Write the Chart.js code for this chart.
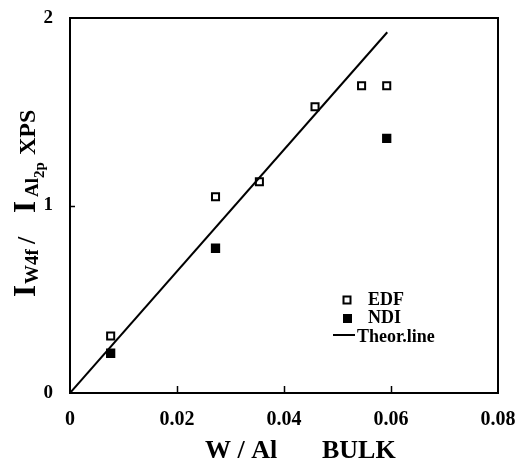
<!DOCTYPE html>
<html>
<head>
<meta charset="utf-8">
<script src="https://cdn.jsdelivr.net/npm/chart.js@4"></script>
<style>
    html, body { margin: 0; padding: 0; background: #fff; }
</style>
</head>
<body>
<canvas id="chart" width="517" height="461"></canvas>
<script>
// Values
const edfX = [0.0076, 0.0272, 0.0354, 0.0458, 0.0545, 0.0592];
const edfY = [0.304, 1.047, 1.127, 1.527, 1.639, 1.639];
const ndiX = [0.0076, 0.0272, 0.0592];
const ndiY = [0.212, 0.772, 1.358];
const theorX = [0, 0.0593];
const theorY = [0, 1.924];
const xTicks = [0, 0.02, 0.04, 0.06, 0.08];
const yTicks = [0, 1, 2];
const seriesNames = ['EDF', 'NDI', 'Theor.line'];

const toPoints = (xs, ys) => xs.map((x, i) => ({ x: x, y: ys[i] }));

const SERIF = '"Liberation Serif", "DejaVu Serif", serif';

// Frame, inward ticks, axis titles and legend drawn on top
const decorPlugin = {
    id: 'decor',
    afterDraw(chart) {
        const ctx = chart.ctx;
        const a = chart.chartArea;
        const xs = chart.scales.x;
        const ys = chart.scales.y;
        ctx.save();

        // box
        ctx.strokeStyle = '#000';
        ctx.lineWidth = 2;
        ctx.strokeRect(a.left, a.top, a.right - a.left, a.bottom - a.top);

        // inward tick marks
        ctx.lineWidth = 1.5;
        ctx.beginPath();
        xTicks.slice(1, -1).forEach(v => {
            const px = Math.round(xs.getPixelForValue(v)) + 0.5;
            ctx.moveTo(px, a.bottom);
            ctx.lineTo(px, a.bottom - 7);
        });
        yTicks.slice(1, -1).forEach(v => {
            const py = Math.round(ys.getPixelForValue(v)) + 0.5;
            ctx.moveTo(a.left, py);
            ctx.lineTo(a.left + 5, py);
        });
        ctx.stroke();

        // x title
        ctx.fillStyle = '#000';
        ctx.textBaseline = 'alphabetic';
        ctx.textAlign = 'left';
        ctx.font = 'bold 26px ' + SERIF;
        ctx.fillText('W / Al', 205, 458);
        ctx.fillText('BULK', 322, 458);

        // y title with subscripts, rotated
        ctx.save();
        ctx.translate(35, 297);
        ctx.rotate(-Math.PI / 2);
        const parts = [
            ['I', 31, 0, 0],
            ['W4f', 19, 13, 3],
            ['/', 26, 53, 0],
            ['I', 31, 84, 0],
            ['Al', 19, 100, 3],
            ['2p', 15, 119, 9],
            ['XPS', 24, 142, 0]
        ];
        parts.forEach(p => {
            ctx.font = 'bold ' + p[1] + 'px ' + SERIF;
            ctx.fillText(p[0], p[2], p[3]);
        });
        ctx.restore();

        // legend
        ctx.lineWidth = 2;
        ctx.strokeRect(343.5, 296.5, 7, 7);
        ctx.fillRect(343, 314, 9, 9);
        ctx.beginPath();
        ctx.moveTo(333, 335);
        ctx.lineTo(355, 335);
        ctx.stroke();
        ctx.font = 'bold 18px ' + SERIF;
        ctx.fillText(seriesNames[0], 368, 305);
        ctx.fillText(seriesNames[1], 368, 323);
        ctx.fillText(seriesNames[2], 357, 342);

        ctx.restore();
    }
};

const ctx = document.getElementById('chart').getContext('2d');
const chart = new Chart(ctx, {
    type: 'scatter',
    data: {
        datasets: [
            {
                label: seriesNames[2],
                data: toPoints(theorX, theorY),
                showLine: true,
                borderColor: '#000',
                borderWidth: 2,
                pointRadius: 0,
                fill: false
            },
            {
                label: seriesNames[0],
                data: toPoints(edfX, edfY),
                pointStyle: 'rect',
                pointRadius: 5,
                borderWidth: 2,
                borderColor: '#000',
                backgroundColor: '#fff'
            },
            {
                label: seriesNames[1],
                data: toPoints(ndiX, ndiY),
                pointStyle: 'rect',
                pointRadius: 5.5,
                borderWidth: 1.5,
                borderColor: '#000',
                backgroundColor: '#000'
            }
        ]
    },
    options: {
        responsive: false,
        animation: false,
        layout: { padding: { top: 18, right: 19, left: 0, bottom: 0 } },
        plugins: {
            legend: { display: false },
            tooltip: { enabled: false }
        },
        scales: {
            x: {
                type: 'linear',
                min: 0,
                max: 0.08,
                afterFit: s => {
                    s.height = 68;
                    s.paddingLeft = 0;
                    s.paddingRight = 0;
                },
                afterBuildTicks: s => { s.ticks = xTicks.map(v => ({ value: v })); },
                grid: { display: false, drawTicks: false },
                border: { display: false },
                ticks: {
                    padding: 15,
                    color: '#000',
                    font: { family: SERIF, size: 20, weight: 'bold' },
                    callback: v => (v === 0 ? '0' : v.toFixed(2))
                }
            },
            y: {
                type: 'linear',
                min: 0,
                max: 2,
                afterFit: s => {
                    s.width = 70;
                    s.paddingTop = 0;
                    s.paddingBottom = 0;
                },
                afterBuildTicks: s => { s.ticks = yTicks.map(v => ({ value: v })); },
                grid: { display: false, drawTicks: false },
                border: { display: false },
                ticks: {
                    padding: 17,
                    color: '#000',
                    font: { family: SERIF, size: 19, weight: 'bold' },
                    callback: v => String(v)
                }
            }
        }
    },
    plugins: [decorPlugin]
});
</script>
</body>
</html>
